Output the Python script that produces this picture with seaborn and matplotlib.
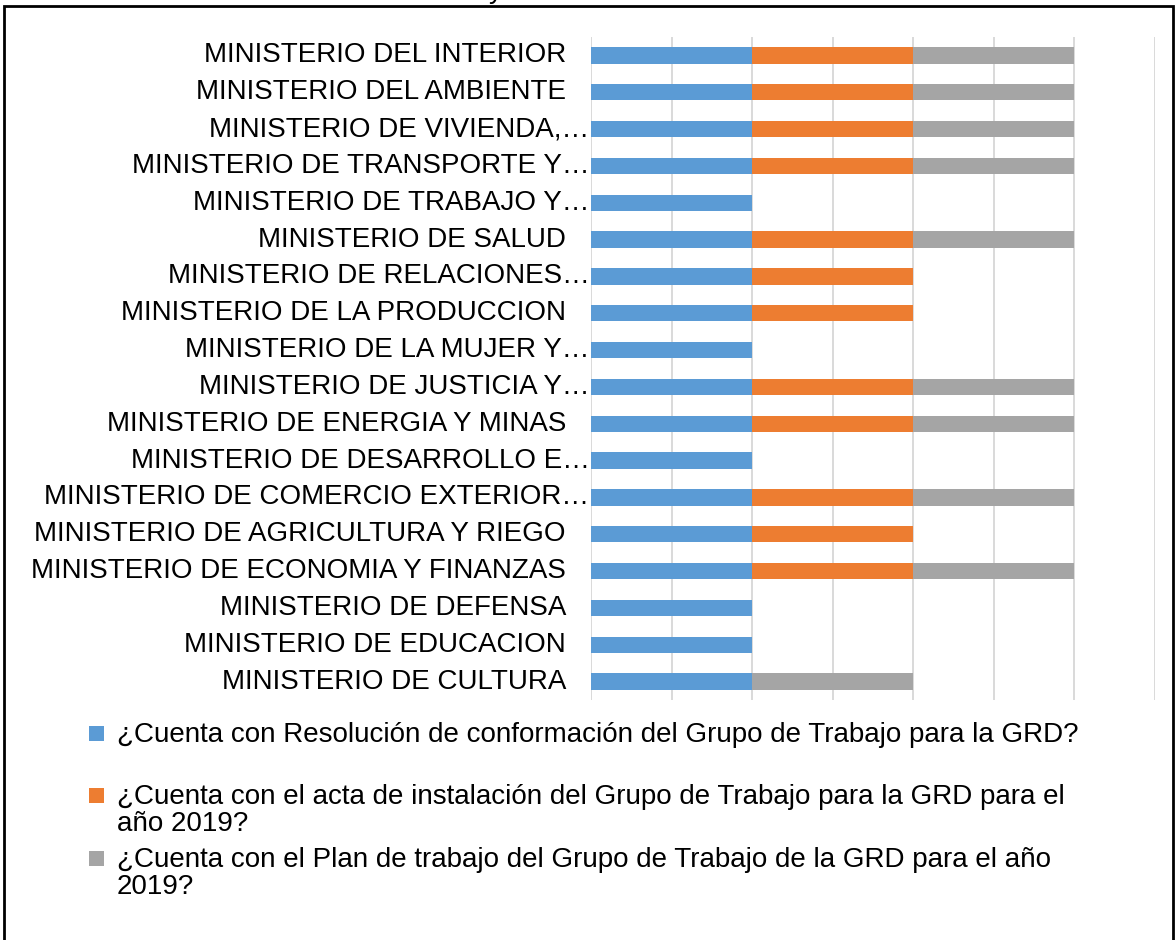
import matplotlib
matplotlib.use("Agg")
import matplotlib.pyplot as plt
from matplotlib.patches import Rectangle
import seaborn as sns
import numpy as np

# ministerios, de arriba hacia abajo tal como aparecen en el grafico
ministerios = [
    "MINISTERIO DEL INTERIOR",
    "MINISTERIO DEL AMBIENTE",
    "MINISTERIO DE VIVIENDA,…",
    "MINISTERIO DE TRANSPORTE Y…",
    "MINISTERIO DE TRABAJO Y…",
    "MINISTERIO DE SALUD",
    "MINISTERIO DE RELACIONES…",
    "MINISTERIO DE LA PRODUCCION",
    "MINISTERIO DE LA MUJER Y…",
    "MINISTERIO DE JUSTICIA Y…",
    "MINISTERIO DE ENERGIA Y MINAS",
    "MINISTERIO DE DESARROLLO E…",
    "MINISTERIO DE COMERCIO EXTERIOR…",
    "MINISTERIO DE AGRICULTURA Y RIEGO",
    "MINISTERIO DE ECONOMIA Y FINANZAS",
    "MINISTERIO DE DEFENSA",
    "MINISTERIO DE EDUCACION",
    "MINISTERIO DE CULTURA",
]

# 1 = si cuenta, 0 = no cuenta
resolucion = [1, 1, 1, 1, 1, 1, 1, 1, 1, 1, 1, 1, 1, 1, 1, 1, 1, 1]
acta       = [1, 1, 1, 1, 0, 1, 1, 1, 0, 1, 1, 0, 1, 1, 1, 0, 0, 0]
plan       = [1, 1, 1, 1, 0, 1, 0, 0, 0, 1, 1, 0, 1, 0, 1, 0, 0, 1]

series = [
    "¿Cuenta con Resolución de conformación del Grupo de Trabajo para la GRD?",
    "¿Cuenta con el acta de instalación del Grupo de Trabajo para la GRD para el\naño 2019?",
    "¿Cuenta con el Plan de trabajo del Grupo de Trabajo de la GRD para el año\n2019?",
]
colores = ["#5B9BD5", "#ED7D31", "#A5A5A5"]

sns.set_theme(style="white")
plt.rcParams["font.family"] = ["Liberation Sans", "DejaVu Sans"]

fig = plt.figure(figsize=(11.76, 9.4), dpi=100)
ax = fig.add_axes([591 / 1176, 1 - 700 / 940, (1155 - 591) / 1176, 663 / 940])

# barras apiladas: se dibujan los acumulados de atras hacia adelante
r = np.array(resolucion)
a = np.array(acta)
p = np.array(plan)
acumulados = [r, r + a, r + a + p]
for vals, col in reversed(list(zip(acumulados, colores))):
    sns.barplot(x=vals, y=ministerios, color=col, saturation=1, width=0.44,
                orient="h", errorbar=None, linewidth=0, ax=ax, zorder=3)

ax.set_xlim(0, 3.5)
ax.set_xticks(np.arange(0, 3.51, 0.5))
ax.set_xticklabels([])
ax.xaxis.grid(True, color="#D9D9D9", linewidth=1.4, zorder=0)
ax.yaxis.grid(False)
ax.set_axisbelow(True)
for s in ax.spines.values():
    s.set_visible(False)
ax.tick_params(length=0)
ax.set_xlabel("")
ax.set_ylabel("")

# etiquetas: las completas llevan espacio al final (como en excel)
ax.set_yticklabels([])
for i, nombre in enumerate(ministerios):
    desplaz = -1 if nombre.endswith("…") else -18
    ax.annotate(nombre, xy=(0, i), xycoords=("axes fraction", "data"),
                xytext=(desplaz, 0), textcoords="offset points",
                ha="right", va="center", fontsize=20, color="black")

# leyenda
y_entradas = [733, 795, 858]
for nombre, col, yy in zip(series, colores, y_entradas):
    fig.add_artist(Rectangle((89 / 1176, 1 - (yy + 8) / 940), 15 / 1176, 15 / 940,
                             transform=fig.transFigure, color=col, lw=0))
    fig.text(117 / 1176, 1 - (yy - 11) / 940, nombre, fontsize=20, va="top",
             ha="left", linespacing=1.05, color="black")

# titulo cortado arriba y marco del grafico
fig.text(0.416, 1.002, "y", fontsize=20, va="baseline", ha="left", color="black")
fig.add_artist(Rectangle((4 / 1176, -0.1), (1173 - 4) / 1176, 1.1 - 6 / 940,
                         transform=fig.transFigure, fill=False, ec="black", lw=2))

plt.savefig("out.png", dpi=100)
